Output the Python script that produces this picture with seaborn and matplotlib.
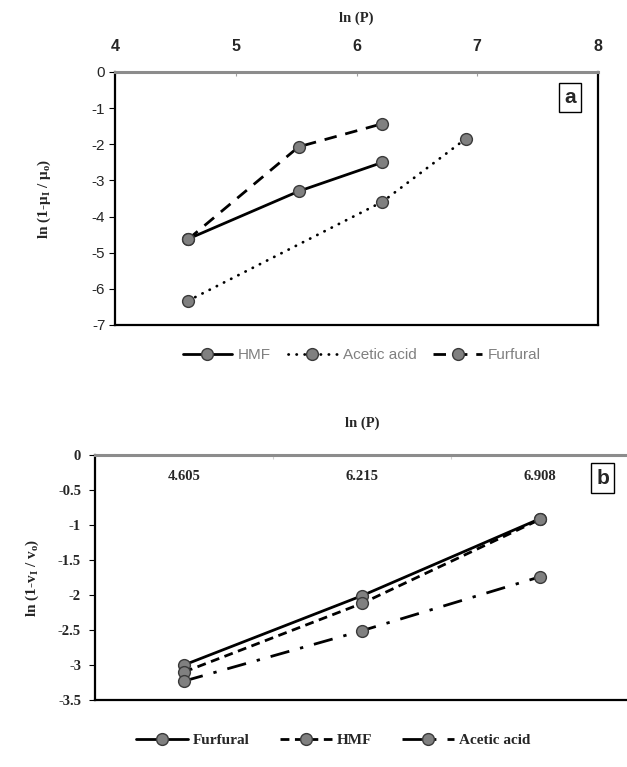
import numpy as np
import pandas as pd
import matplotlib
matplotlib.use("Agg")
import matplotlib.pyplot as plt
from matplotlib.lines import Line2D
import seaborn as sns

sns.set_style("white")
plt.rcParams['font.family'] = ['Liberation Sans', 'DejaVu Sans']
plt.rcParams['axes.unicode_minus'] = False
plt.rcParams['mathtext.fontset'] = 'custom'
plt.rcParams['mathtext.rm'] = 'Liberation Serif:bold'
plt.rcParams['mathtext.it'] = 'Liberation Serif:bold'
plt.rcParams['mathtext.bf'] = 'Liberation Serif:bold'

# ---------------- data: panel a ----------------
a_hmf_x = [4.605, 5.521, 6.215]
a_hmf_y = [-4.62, -3.30, -2.50]
a_acetic_x = [4.605, 6.215, 6.908]
a_acetic_y = [-6.33, -3.59, -1.84]
a_furfural_x = [4.605, 5.521, 6.215]
a_furfural_y = [-4.63, -2.07, -1.43]

# ---------------- data: panel b ----------------
b_categories = ["4.605", "6.215", "6.908"]
b_furfural = [-3.00, -2.01, -0.91]
b_hmf = [-3.10, -2.12, -0.92]
b_acetic = [-3.23, -2.51, -1.74]

serif = ['Liberation Serif', 'DejaVu Serif']
MFC = '#808080'
MEC = '#3a3a3a'
MS = 8.5
LW = 2.0

fig = plt.figure(figsize=(6.27, 7.67), dpi=100)

# ================= panel a =================
axa = fig.add_axes([115/627, 1-325/767, 483/627, 253/767])
mk = dict(marker='o', markersize=MS, markerfacecolor=MFC, markeredgecolor=MEC,
          markeredgewidth=1.0, color='black', linewidth=LW)
sns.lineplot(x=a_hmf_x, y=a_hmf_y, ax=axa, linestyle='-', sort=False, **mk)
la2 = sns.lineplot(x=a_acetic_x, y=a_acetic_y, ax=axa, sort=False, **mk).lines[-1]
la2.set_dashes((0.1, 2.8))
la2.set_dash_capstyle('round')
la3 = sns.lineplot(x=a_furfural_x, y=a_furfural_y, ax=axa, sort=False, **mk).lines[-1]
la3.set_dashes((4.5, 3.2))

axa.set_xlim(4, 8)
axa.set_ylim(-7, 0)
axa.xaxis.tick_top()
axa.xaxis.set_label_position('top')
axa.set_xticks([4, 5, 6, 7, 8])
axa.set_yticks(range(-7, 1))
axa.tick_params(axis='x', top=True, bottom=False, direction='in', length=3,
                color='#a0a0a0', labelsize=11.5, pad=13)
for t in axa.get_xticklabels():
    t.set_fontweight('bold')
axa.tick_params(axis='y', left=True, direction='out', length=4, color='black',
                labelsize=11, pad=3)
axa.set_xlabel('ln (P)', fontfamily=serif, fontweight='bold', fontsize=10.5, labelpad=12)
axa.set_ylabel('ln (1-μ$_{I}$ / μ$_{o}$)', fontfamily=serif, fontweight='bold',
               fontsize=11, labelpad=28)
for s in ['left', 'right', 'bottom']:
    axa.spines[s].set_color('black')
    axa.spines[s].set_linewidth(1.6)
axa.spines['top'].set_color('#8c8c8c')
axa.spines['top'].set_linewidth(2.2)
axa.text(0.943, 0.90, 'a', transform=axa.transAxes, ha='center', va='center',
         fontsize=15, fontweight='bold',
         bbox=dict(boxstyle='square,pad=0.25', fc='white', ec='black', lw=1.0))

hA = [Line2D([], [], linestyle='-', **mk),
      Line2D([], [], linestyle=(0, (0.1, 2.8)), dash_capstyle='round', **mk),
      Line2D([], [], linestyle=(0, (4.5, 3.2)), **mk)]
legA = fig.legend(hA, ['HMF', 'Acetic acid', 'Furfural'], loc='center',
                  bbox_to_anchor=(362/627, 1-355/767), ncol=3, frameon=False,
                  fontsize=11, handlelength=3.2, columnspacing=1.1, handletextpad=0.4)
for t in legA.get_texts():
    t.set_color('#808080')

# ================= panel b =================
axb = fig.add_axes([95/627, 1-700/767, 534/627, 245/767])
pos = np.arange(len(b_categories))
mkb = dict(marker='o', markersize=MS, markerfacecolor=MFC, markeredgecolor=MEC,
           markeredgewidth=1.0, color='black', linewidth=LW)
sns.lineplot(x=pos, y=b_furfural, ax=axb, linestyle='-', sort=False, **mkb)
lb2 = sns.lineplot(x=pos, y=b_hmf, ax=axb, sort=False, **mkb).lines[-1]
lb2.set_dashes((3.2, 2.0))
lb3 = sns.lineplot(x=pos, y=b_acetic, ax=axb, sort=False, **mkb).lines[-1]
lb3.set_dashes((7.0, 4.0, 1.2, 4.0))

axb.set_xlim(-0.5, 2.5)
axb.set_ylim(-3.5, 0)
axb.set_xticks([-0.5, 0.5, 1.5, 2.5])
axb.set_xticklabels([])
axb.set_xticks(pos, minor=True)
axb.set_xticklabels(b_categories, minor=True)
axb.xaxis.set_label_position('top')
axb.tick_params(axis='x', which='major', top=True, bottom=False, direction='in',
                length=3, color='#d0d0d0', labeltop=False, labelbottom=False)
axb.tick_params(axis='x', which='minor', top=False, bottom=False, labeltop=True,
                labelbottom=False, pad=-22, labelsize=10.5)
for t in axb.get_xticklabels(minor=True):
    t.set_fontfamily(serif)
    t.set_fontweight('bold')
axb.set_yticks(np.arange(-3.5, 0.01, 0.5))
axb.set_yticklabels(['-3.5', '-3', '-2.5', '-2', '-1.5', '-1', '-0.5', '0'])
axb.tick_params(axis='y', left=True, direction='out', length=4, color='black',
                labelsize=10.5, pad=6)
for t in axb.get_yticklabels():
    t.set_fontfamily(serif)
    t.set_fontweight('bold')
axb.set_xlabel('ln (P)', fontfamily=serif, fontweight='bold', fontsize=10.5, labelpad=20)
axb.set_ylabel('ln (1-v$_{I}$ / v$_{o}$)', fontfamily=serif, fontweight='bold',
               fontsize=11, labelpad=12)
for s in ['left', 'bottom']:
    axb.spines[s].set_color('black')
    axb.spines[s].set_linewidth(1.6)
axb.spines['right'].set_visible(False)
axb.spines['top'].set_color('#8c8c8c')
axb.spines['top'].set_linewidth(2.2)
axb.text(0.951, 0.906, 'b', transform=axb.transAxes, ha='center', va='center',
         fontsize=15, fontweight='bold',
         bbox=dict(boxstyle='square,pad=0.25', fc='white', ec='black', lw=1.0))

hB = [Line2D([], [], linestyle='-', **mkb),
      Line2D([], [], linestyle=(0, (3.2, 2.0)), **mkb),
      Line2D([], [], linestyle=(0, (7.0, 4.0, 1.2, 4.0)), **mkb)]
legB = fig.legend(hB, ['Furfural', 'HMF', 'Acetic acid'], loc='center',
                  bbox_to_anchor=(333/627, 1-740/767), ncol=3, frameon=False,
                  prop=dict(family=serif, weight='bold', size=11),
                  handlelength=3.4, columnspacing=2.0, handletextpad=0.3)

fig.savefig('out.png', dpi=100)
